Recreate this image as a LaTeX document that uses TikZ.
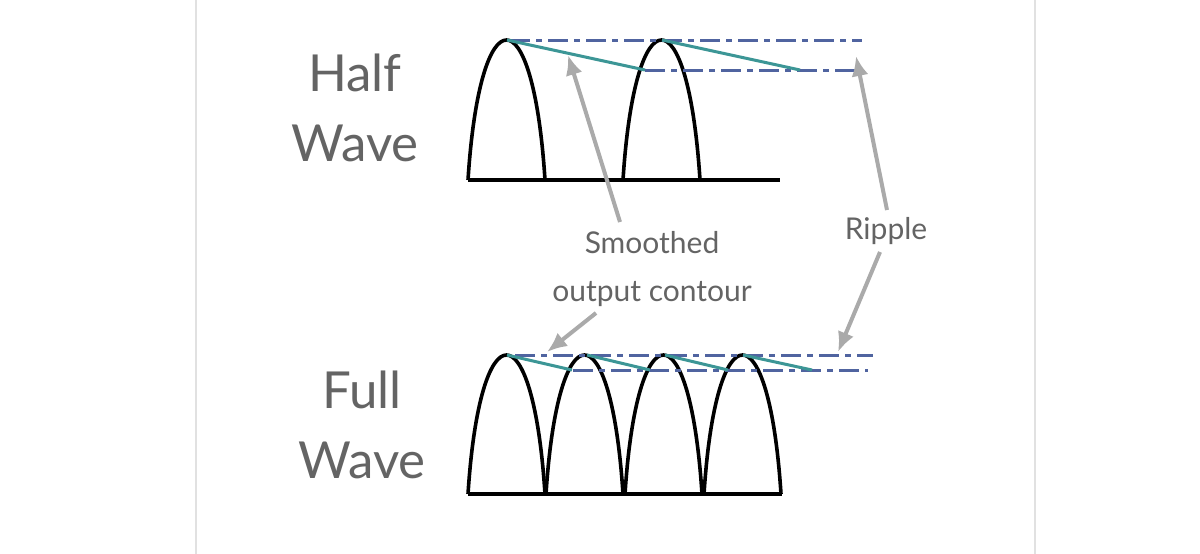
\documentclass[tikz,border=0pt]{standalone}
\usepackage{fontspec}
\setmainfont{Lato}
\usetikzlibrary{arrows.meta}
\begin{document}
\begin{tikzpicture}[x=1pt,y=-1pt,
 wave/.style={line width=3.6pt,black},
 teal/.style={line width=3pt,color={rgb,255:red,60;green,150;blue,150}},
 ddot/.style={line width=3pt,color={rgb,255:red,80;green,100;blue,160},dash pattern=on 20pt off 6pt on 6pt off 6pt},
 arr/.style={line width=4pt,color={rgb,255:red,170;green,170;blue,170},-{Latex[length=20pt,width=17pt]}},
 big/.style={font=\fontsize{51}{70}\selectfont,text={rgb,255:red,100;green,100;blue,100},align=center},
 lab/.style={font=\fontsize{30}{48}\selectfont,text={rgb,255:red,100;green,100;blue,100},align=center}]
\useasboundingbox (0,0) rectangle (1200,554);
\fill[white] (0,0) rectangle (1200,554);
\draw[line width=2pt,color={rgb,255:red,225;green,225;blue,225}] (196,0) -- (196,554) (1035,0) -- (1035,554);
\newcommand\arch[3]{\draw[wave] (#1,#3) .. controls ({#1+12},{#3-(#3-#2)*4/3}) and ({#1+65},{#3-(#3-#2)*4/3}) .. ({#1+77},#3);}
% half wave
\draw[wave] (468,180) -- (780,180);
\arch{468}{40}{180}
\arch{623}{40}{180}
\draw[ddot] (510,40) -- (862,40);
\draw[ddot] (645,70) -- (862,70);
\draw[teal] (507,40) -- (645,70);
\draw[teal] (662,40) -- (800,70);
% full wave
\draw[wave] (468,494) -- (782,494);
\arch{468}{355}{494}
\arch{546}{355}{494}
\arch{625}{355}{494}
\arch{704}{355}{494}
\draw[ddot] (515,355) -- (873,355);
\draw[ddot] (573,370) -- (868,370);
\draw[teal] (507,355) -- (572,370);
\draw[teal] (587,355) -- (650,370);
\draw[teal] (665,355) -- (728,370);
\draw[teal] (743,355) -- (812,370);
% texts
\node[big] (hw) at (355,108) {Half\\Wave};
\node[big] (fw) at (362,425) {Full\\Wave};
\node[lab] (sm) at (652,269) {Smoothed\\output contour};
\node[lab] (rp) at (886,231) {Ripple};
\coordinate (a1) at (568,55);
\coordinate (a2) at (547,352);
\coordinate (a3) at (856,56);
\coordinate (a4) at (838,352);
\draw[arr] (620,222) -- (a1);
\draw[arr] (596,313) -- (a2);
\draw[arr] (887,210) -- (a3);
\draw[arr] (880,252) -- (a4);
\end{tikzpicture}
\end{document}
